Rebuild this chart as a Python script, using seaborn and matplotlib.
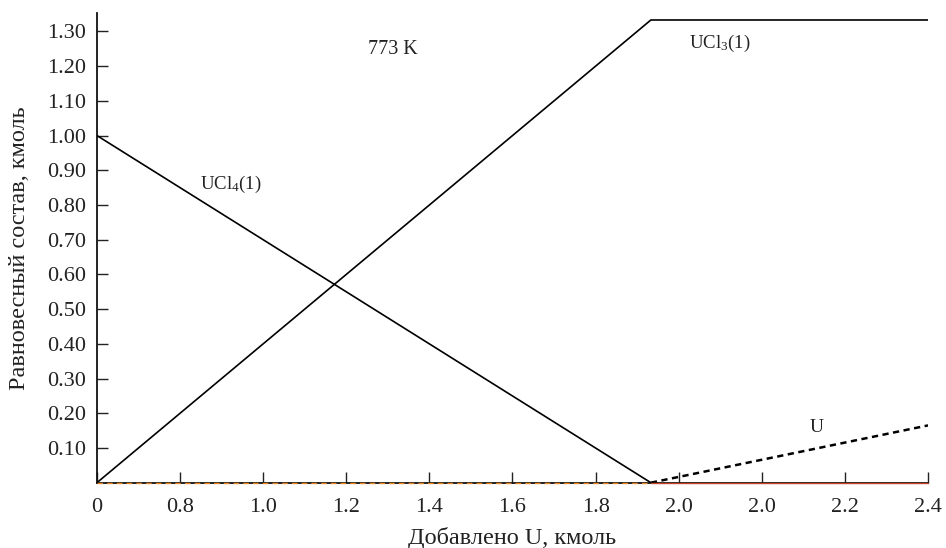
import matplotlib
matplotlib.use("Agg")
import matplotlib.pyplot as plt
import seaborn as sns

# Composition at 773 K versus amount of added U (kmol)
x_ucl4 = [0.6, 1.933]
ucl4 = [1.0, 0.0]

x_ucl3 = [0.6, 1.933, 2.6]
ucl3 = [0.0, 1.333, 1.333]

x_u = [1.933, 2.6]
u_metal = [0.0, 0.165]

x_zero_a = [0.6, 1.933]
zero_a = [0.0, 0.0]
x_zero_b = [1.933, 2.6]
zero_b = [0.0, 0.0]

x_ticks = [0.6, 0.8, 1.0, 1.2, 1.4, 1.6, 1.8, 2.0, 2.2, 2.4, 2.6]
x_tick_labels = ["0", "0.8", "1.0", "1.2", "1.4", "1.6", "1.8", "2.0", "2.0", "2.2", "2.4"]
y_ticks = [0.1, 0.2, 0.3, 0.4, 0.5, 0.6, 0.7, 0.8, 0.9, 1.0, 1.1, 1.2, 1.3]
y_tick_labels = [f"{v:.2f}" for v in y_ticks]

sns.set_style("ticks")
plt.rcParams["font.family"] = ["Liberation Serif", "DejaVu Serif"]
plt.rcParams["mathtext.fontset"] = "custom"
plt.rcParams["mathtext.rm"] = "Liberation Serif"
plt.rcParams["mathtext.it"] = "Liberation Serif"

fig = plt.figure(figsize=(9.46, 5.48), dpi=100)
ax = fig.add_axes([0.1025, 0.1192, 0.8785, 0.8570])

sns.lineplot(x=x_ucl4, y=ucl4, ax=ax, color="black", lw=1.2, zorder=3)
sns.lineplot(x=x_ucl3, y=ucl3, ax=ax, color="black", lw=1.2, zorder=3)
sns.lineplot(x=x_u, y=u_metal, ax=ax, color="black", lw=1.8,
             linestyle=(0, (2.5, 1.8)), zorder=3)

# coloured zero-level traces lying on the baseline
sns.lineplot(x=x_zero_a, y=zero_a, ax=ax, color="#e8892b", lw=1.0,
             linestyle=(0, (4, 3)), clip_on=False, zorder=4)
sns.lineplot(x=x_zero_b, y=zero_b, ax=ax, color="#c0452a", lw=1.0,
             clip_on=False, zorder=4)

ax.set_xlim(0.6, 2.6)
ax.set_ylim(0, 1.353)
ax.set_xticks(x_ticks)
ax.set_xticklabels(x_tick_labels)
ax.set_yticks(y_ticks)
ax.set_yticklabels(y_tick_labels)

ax.tick_params(axis="both", direction="in", length=8, width=1.0,
               labelsize=16, colors="#222222")
ax.tick_params(axis="x", pad=11)
ax.tick_params(axis="y", pad=8)

for side in ("top", "right"):
    ax.spines[side].set_visible(False)
for side in ("left", "bottom"):
    ax.spines[side].set_linewidth(1.3)
    ax.spines[side].set_color("#111111")
    ax.spines[side].set_zorder(2)

ax.set_xlabel("Добавлено U, кмоль", fontsize=17.5, labelpad=7, color="#222222")
ax.set_ylabel("Равновесный состав, кмоль", fontsize=17.5, labelpad=12, color="#222222")

ax.text(1.311, 1.247, "773 K", fontsize=14.5, ha="center", va="center", color="#222222")
ax.text(0.847, 0.858, r"UCl$_4$(1)", fontsize=13.5, ha="left", va="center", color="#222222")
ax.text(2.024, 1.264, r"UCl$_3$(1)", fontsize=13.5, ha="left", va="center", color="#222222")
ax.text(2.331, 0.158, "U", fontsize=14, ha="center", va="center", color="#222222")

fig.savefig("out.png", dpi=100)
